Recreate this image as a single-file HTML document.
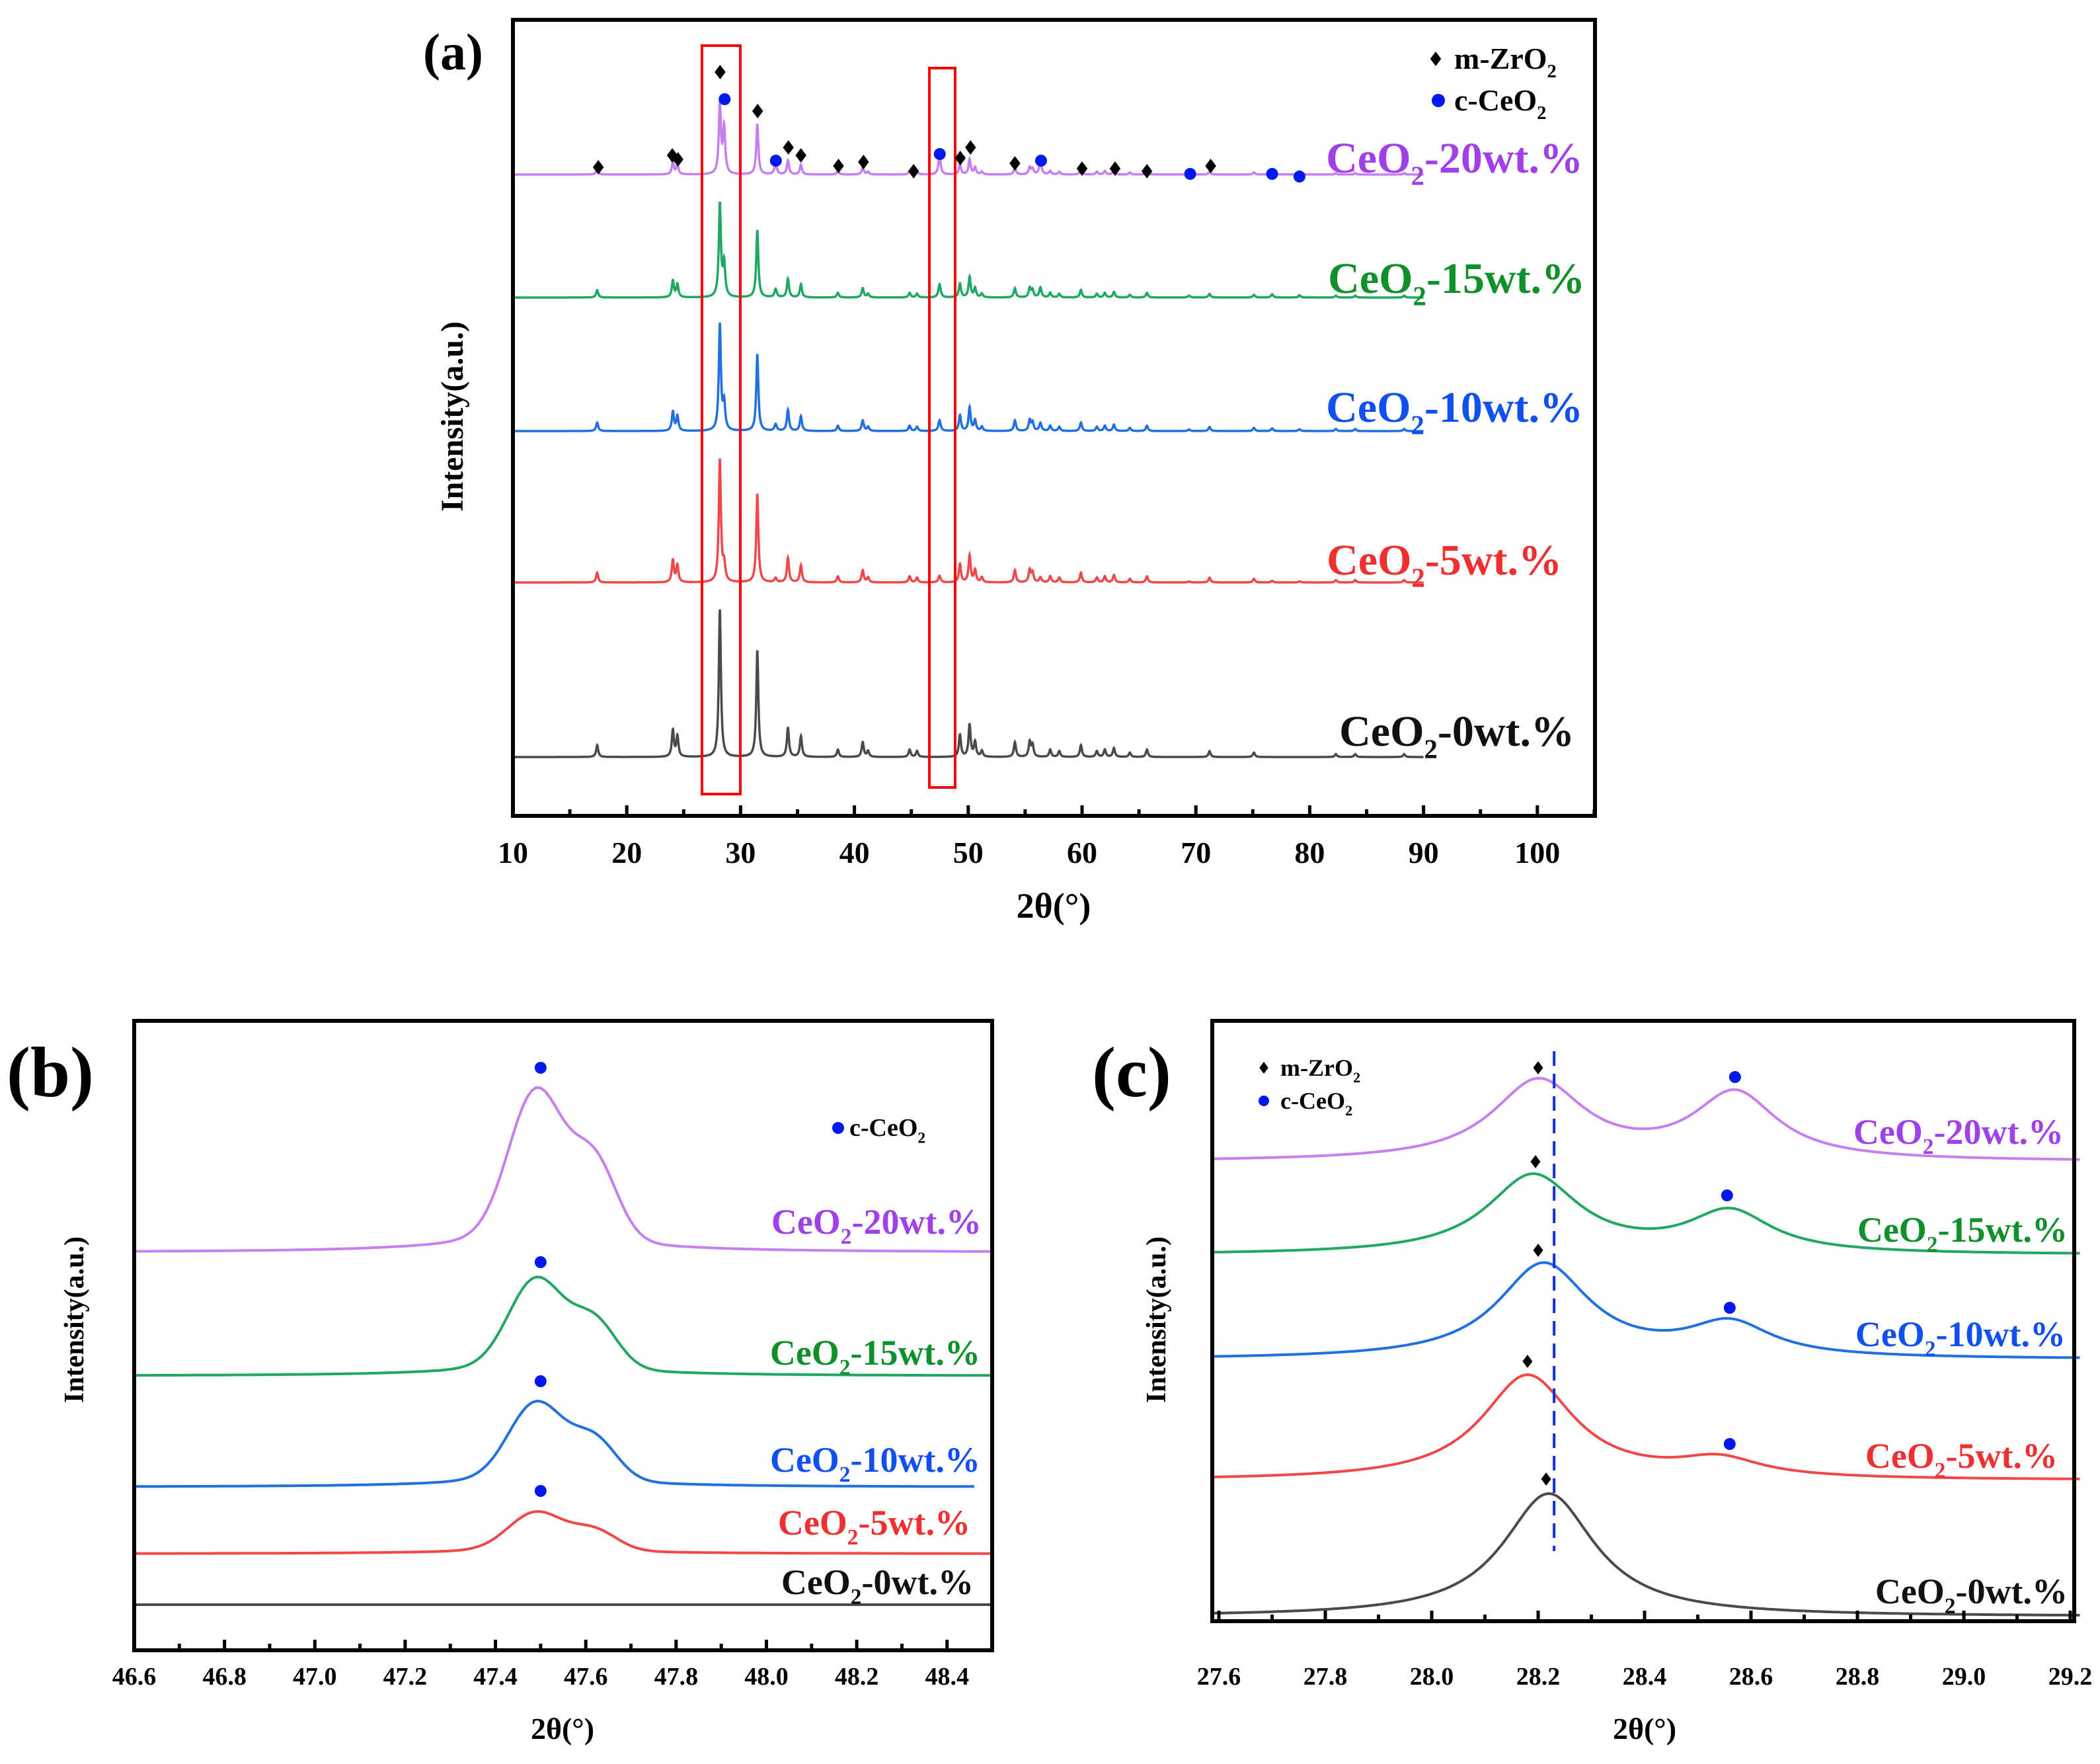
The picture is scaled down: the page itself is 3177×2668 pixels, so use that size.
<!DOCTYPE html>
<html><head><meta charset="utf-8"><style>
html,body{margin:0;padding:0;background:#fff}
svg text{font-family:"Liberation Serif",serif;font-weight:bold}
</style></head><body>
<svg id="fig" xmlns="http://www.w3.org/2000/svg" width="3177" height="2663" viewBox="0 0 3177 2663">
<rect width="3177" height="2663" fill="#fff"/>
<g id="pa"></g>
<g id="pb"></g>
<g id="pc"></g>
</svg>
<script>
// ---------- shared data ----------
const seriesNames = ["CeO2-0wt.%","CeO2-5wt.%","CeO2-10wt.%","CeO2-15wt.%","CeO2-20wt.%"];
const lineColors = ["#4a4a4a","#f04848","#2070e0","#20a862","#c77ef0"];
const textColors = ["#111111","#f03030","#1050f0","#10902a","#a040e8"];
// panel a
const aZrPos = [17.4,24.05,24.45,28.18,31.47,34.16,35.3,38.55,40.73,41.2,44.85,45.5,49.27,50.12,50.6,51.2,54.1,55.4,55.65,57.2,58.0,59.9,61.3,62.0,62.8,64.2,65.7,71.2,75.1,82.3,84.0,88.3];
const aZrInt = [0.08,0.18,0.14,1,0.72,0.2,0.14,0.05,0.1,0.04,0.05,0.04,0.15,0.22,0.1,0.04,0.1,0.1,0.08,0.05,0.04,0.08,0.04,0.05,0.06,0.03,0.05,0.04,0.03,0.02,0.02,0.02];
const aCePos = [28.55,33.08,47.48,56.34,69.4,76.7,79.1];
const aCeInt = [1,0.25,0.4,0.3,0.06,0.1,0.07];
const aZrScale = [223,185,160,140,105];
const aCeScale = [0,25,40,50,70];
const aOffset = [89,353,582,784,970];
const aDiaX = [17.5,24.0,24.5,28.2,31.5,34.2,35.3,38.6,40.8,45.2,49.3,50.2,54.1,60.0,62.9,65.7,71.3];
const aDiaY = [981,999,993,1125,1066,1011,999,983,989,975,995,1011,987,979,979,975,983];
const aDotX = [28.6,33.1,47.5,56.4,69.5,76.7,79.1];
const aDotY = [1084,991,1001,991,971,971,967];
const aTicks = [10,20,30,40,50,60,70,80,90,100];
// panel b
const bOffset = [69,146,247,415,602];
const bHeight = [0,65,132,152,253];
const bDotGap = [0,30,28,20,26];
const bTicks = [46.6,46.8,47.0,47.2,47.4,47.6,47.8,48.0,48.2,48.4];
// panel c
const cOffset = [7,213,396,554,695];
const cZrPos = [28.22,28.18,28.21,28.19,28.20];
const cZrH = [186,158,143,119,120];
const cCePos = [28.56,28.54,28.56,28.56,28.57];
const cCeH = [0,27,50,62,100];
const cDiaX = [28.215,28.18,28.2,28.195,28.2];
const cDotX = [0,28.56,28.56,28.555,28.57];
const cTicks = [27.6,27.8,28.0,28.2,28.4,28.6,28.8,29.0,29.2];

const NS="http://www.w3.org/2000/svg";
function mk(parent,tag,attrs){const e=document.createElementNS(NS,tag);for(const k in attrs)e.setAttribute(k,attrs[k]);parent.appendChild(e);return e;}
function lor(x,c,w){const d=(x-c)/w;return 1/(1+d*d);}
function label(parent,x,y,size,color,sub,anchor,name){
  const t=mk(parent,"text",{x:x,y:y,"font-size":size,fill:color,"text-anchor":anchor||"start"});
  
  
  const parts=sub.split("|");
  t.appendChild(document.createTextNode(parts[0]));
  if(parts.length>1){
    const s=mk(t,"tspan",{dy:size*0.28,"font-size":size*0.62});s.textContent=parts[1];
    const r=mk(t,"tspan",{dy:-size*0.28});r.textContent=parts[2]||"";
  }
  return t;
}
function diamond(parent,cx,cy,r,name){
  const p=mk(parent,"polygon",{points:`${cx},${cy-r} ${cx+r*0.75},${cy} ${cx},${cy+r} ${cx-r*0.75},${cy}`,fill:"#000"});
  
  
}
function dot(parent,cx,cy,r,name){
  const c=mk(parent,"circle",{cx:cx,cy:cy,r:r,fill:"#0018f0"});
  
  
}
function frame(parent,L,T,R,B,name){
  const f=mk(parent,"rect",{x:L,y:T,width:R-L,height:B-T,fill:"none",stroke:"#000","stroke-width":6});
  
  
}
function ticks(parent,xs,ticksArr,minorStep,lo,hi,B,fmt,labY,fs){
  const g=mk(parent,"g",{});
  
  
  for(let v=lo;v<=hi+1e-9;v+=minorStep){
    const isMajor=ticksArr.some(t=>Math.abs(t-v)<1e-6);
    mk(g,"line",{x1:xs(v),x2:xs(v),y1:B,y2:B-(isMajor?16:10),stroke:"#000","stroke-width":5});
  }
  ticksArr.forEach(t=>{
    const e=mk(g,"text",{x:xs(t),y:labY,"font-size":fs,"text-anchor":"middle",fill:"#000"});
    e.textContent=fmt(t);
    
    
  });
}
function ytitle(parent,x,y,fs){
  const t=mk(parent,"text",{x:x,y:y,"font-size":fs,"text-anchor":"middle",transform:`rotate(-90 ${x} ${y})`,fill:"#000"});
  t.textContent="Intensity(a.u.)";
  
  
}
function xtitle(parent,x,y,fs){
  const t=mk(parent,"text",{x:x,y:y,"font-size":fs,"text-anchor":"middle",fill:"#000"});
  t.textContent="2θ(°)";
  
  
}

// ---------- Panel A ----------
(function(){
  const g=document.getElementById("pa");
  const L=776,R=2413,T=30,B=1234;
  const xs=v=>776+(v-10)*17.22;
  const ys=v=>B-v;
  for(let s=0;s<5;s++){
    let d="";
    for(let x=10;x<=90;x+=0.02){
      let v=aOffset[s];
      for(let i=0;i<aZrPos.length;i++)v+=aZrScale[s]*aZrInt[i]*lor(x,aZrPos[i],0.11);
      for(let i=0;i<aCePos.length;i++)v+=aCeScale[s]*aCeInt[i]*lor(x,aCePos[i],0.12);
      d+=(d?"L":"M")+xs(x).toFixed(1)+","+ys(v).toFixed(1);
    }
    const p=mk(g,"path",{d:d,fill:"none",stroke:lineColors[s],"stroke-width":3.5});
    
    
  }
  const rb1=mk(g,"rect",{x:1062,y:69,width:58,height:1132,fill:"none",stroke:"#f00","stroke-width":4});
  
  
  const rb2=mk(g,"rect",{x:1406,y:103,width:39,height:1088,fill:"none",stroke:"#f00","stroke-width":4});
  
  
  aDiaX.forEach((x,i)=>diamond(g,xs(x),ys(aDiaY[i]),11,'zro2-marker'));
  aDotX.forEach((x,i)=>dot(g,xs(x),ys(aDotY[i]),9,'ceo2-marker'));
  frame(g,L,T,R,B,'frame-a');
  ticks(g,xs,aTicks,5,10,105,B,t=>String(t),1305,46);
  xtitle(g,1594,1388,54);
  ytitle(g,700,630,48);
  const lab=mk(g,"text",{x:640,y:105,"font-size":78,fill:"#000"});lab.textContent="(a)";
  
  
  diamond(g,2172,89,11,'legend-zro2-symbol');
  label(g,2200,104,46,"#000","m-ZrO|2|",'start','legend-zro2');
  dot(g,2176,152,10,'legend-ceo2-symbol');
  label(g,2200,167,46,"#000","c-CeO|2|",'start','legend-ceo2');
  const ly=[1106,847,616,421,239];
  const lx=[2382,2363,2395,2398,2395];
  for(let s=0;s<5;s++)label(g,lx[s],ly[s]+22,66,textColors[s],"CeO|2|-"+seriesNames[s].split("-")[1],'end','series-label-a-'+s);
})();

// ---------- Panel B ----------
(function(){
  const g=document.getElementById("pb");
  const L=203,R=1501,T=1544,B=2496;
  const xs=v=>203+(v-46.6)*683.2;
  const ys=v=>B-v;
  for(let s=0;s<5;s++){
    let d="";
    const xe = s===2?48.46:48.5;
    for(let x=46.6;x<=xe+1e-9;x+=0.01){
      const v=bOffset[s]+bHeight[s]*(0.85*Math.exp(-Math.pow((x-47.49)/0.085,2))+0.45*Math.exp(-Math.pow((x-47.62)/0.07,2))+0.12*lor(x,47.5,0.2));
      d+=(d?"L":"M")+xs(x).toFixed(1)+","+ys(v).toFixed(1);
    }
    const p=mk(g,"path",{d:d,fill:"none",stroke:lineColors[s],"stroke-width":4});
    
    
    if(bHeight[s]>0)dot(g,xs(47.5),ys(bOffset[s]+bHeight[s]+bDotGap[s]),9,'ceo2-marker-b');
  }
  frame(g,L,T,R,B,'frame-b');
  ticks(g,xs,bTicks,0.1,46.6,48.5,B,t=>t.toFixed(1),2548,38);
  xtitle(g,851,2630,46);
  ytitle(g,126,1996,42);
  const lab=mk(g,"text",{x:10,y:1658,"font-size":108,fill:"#000"});lab.textContent="(b)";
  
  
  dot(g,1268,1706,9,'legend-ceo2-symbol-b');
  label(g,1285,1718,38,"#000","c-CeO|2|",'start','legend-ceo2-b');
  const ly=[2393,2303,2208,2046,1848];
  const lx=[1473,1468,1483,1483,1485];
  for(let s=0;s<5;s++)label(g,lx[s],ly[s]+18,54,textColors[s],"CeO|2|-"+seriesNames[s].split("-")[1],'end','series-label-b-'+s);
})();

// ---------- Panel C ----------
(function(){
  const g=document.getElementById("pc");
  const L=1834,R=3138,T=1544,B=2452;
  const xs=v=>1844+(v-27.6)*805;
  const ys=v=>B-v;
  for(let s=0;s<5;s++){
    let d="";
    for(let x=27.59;x<=29.22;x+=0.004){
      const v=cOffset[s]+cZrH[s]*lor(x,cZrPos[s],0.105)+cCeH[s]*lor(x,cCePos[s],0.095);
      d+=(d?"L":"M")+xs(x).toFixed(1)+","+ys(v).toFixed(1);
    }
    const p=mk(g,"path",{d:d,fill:"none",stroke:lineColors[s],"stroke-width":4});
    
    
    diamond(g,xs(cDiaX[s]),ys(cOffset[s]+cZrH[s]+22),10,'zro2-marker-c');
    if(cCeH[s]>0)dot(g,xs(cDotX[s]),ys(cOffset[s]+cCeH[s]+28),9,'ceo2-marker-c');
  }
  const dl=mk(g,"line",{x1:xs(28.23),x2:xs(28.23),y1:1590,y2:2346,stroke:"#1030e0","stroke-width":4,"stroke-dasharray":"22,12"});
  
  
  frame(g,L,T,R,B,'frame-c');
  ticks(g,xs,cTicks,0.1,27.6,29.2,B,t=>t.toFixed(1),2548,38);
  xtitle(g,2488,2630,46);
  ytitle(g,1763,1996,42);
  const lab=mk(g,"text",{x:1652,y:1658,"font-size":108,fill:"#000"});lab.textContent="(c)";
  
  
  diamond(g,1912,1615,9,'legend-zro2-symbol-c');
  label(g,1937,1627,36,"#000","m-ZrO|2|",'start','legend-zro2-c');
  dot(g,1912,1665,8,'legend-ceo2-symbol-c');
  label(g,1937,1677,36,"#000","c-CeO|2|",'start','legend-ceo2-c');
  const ly=[2407,2202,2018,1860,1712];
  const lx=[3128,3113,3125,3128,3122];
  for(let s=0;s<5;s++)label(g,lx[s],ly[s]+18,54,textColors[s],"CeO|2|-"+seriesNames[s].split("-")[1],'end','series-label-c-'+s);
})();
</script>
</body></html>
